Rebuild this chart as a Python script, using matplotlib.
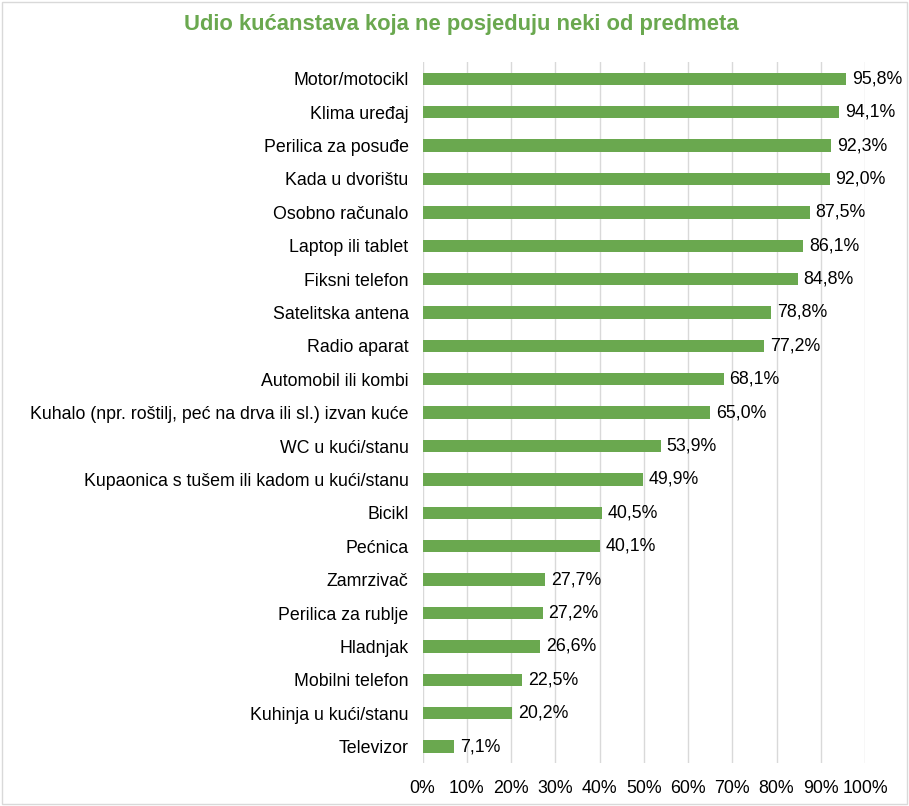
import matplotlib
matplotlib.use("Agg")
import matplotlib.pyplot as plt
from matplotlib.patches import Rectangle

categories = ["Motor/motocikl", "Klima uređaj", "Perilica za posuđe", "Kada u dvorištu",
              "Osobno računalo", "Laptop ili tablet", "Fiksni telefon", "Satelitska antena",
              "Radio aparat", "Automobil ili kombi",
              "Kuhalo (npr. roštilj, peć na drva ili sl.) izvan kuće", "WC u kući/stanu",
              "Kupaonica s tušem ili kadom u kući/stanu", "Bicikl", "Pećnica", "Zamrzivač",
              "Perilica za rublje", "Hladnjak", "Mobilni telefon", "Kuhinja u kući/stanu",
              "Televizor"]
values = [95.8, 94.1, 92.3, 92.0, 87.5, 86.1, 84.8, 78.8, 77.2, 68.1, 65.0, 53.9,
          49.9, 40.5, 40.1, 27.7, 27.2, 26.6, 22.5, 20.2, 7.1]
xticks = list(range(0, 101, 10))
title = "Udio kućanstava koja ne posjeduju neki od predmeta"

plt.rcParams['font.family'] = ['Liberation Sans', 'DejaVu Sans']
green = "#6AA84F"
fs = 12.8

fig = plt.figure(figsize=(9.09, 8.06), dpi=100)
ax = fig.add_axes([0.4648, 0.053, 0.4868, 0.870])
ypos = list(range(len(categories)))
ax.barh(ypos, values, height=0.37, color=green, zorder=3)
ax.set_ylim(len(categories) - 0.5, -0.5)
ax.set_xlim(0, 100)
ax.set_yticks(ypos)
ax.set_yticklabels(categories, fontsize=fs, color="#000000")
ax.set_xticks(xticks)
ax.set_xticklabels([f"{t}%" for t in xticks], fontsize=fs)
ax.tick_params(axis='both', length=0)
ax.tick_params(axis='y', pad=10)
ax.tick_params(axis='x', pad=12)
for s in ax.spines.values():
    s.set_visible(False)
ax.grid(axis='x', color="#d9d9d9", linewidth=1, zorder=0)
for y, v in zip(ypos, values):
    ax.text(v + 1.3, y, f"{v:.1f}%".replace(".", ","), va='center', ha='left',
            fontsize=fs, color="#000000")
fig.text(0.507, 0.969, title, ha='center', va='center', fontsize=15.8,
         fontweight='bold', color=green)
fig.patches.append(Rectangle((0.002, 0.002), 0.996, 0.996, transform=fig.transFigure,
                             fill=False, edgecolor="#d9d9d9", linewidth=1))
fig.savefig("out.png", dpi=100)
